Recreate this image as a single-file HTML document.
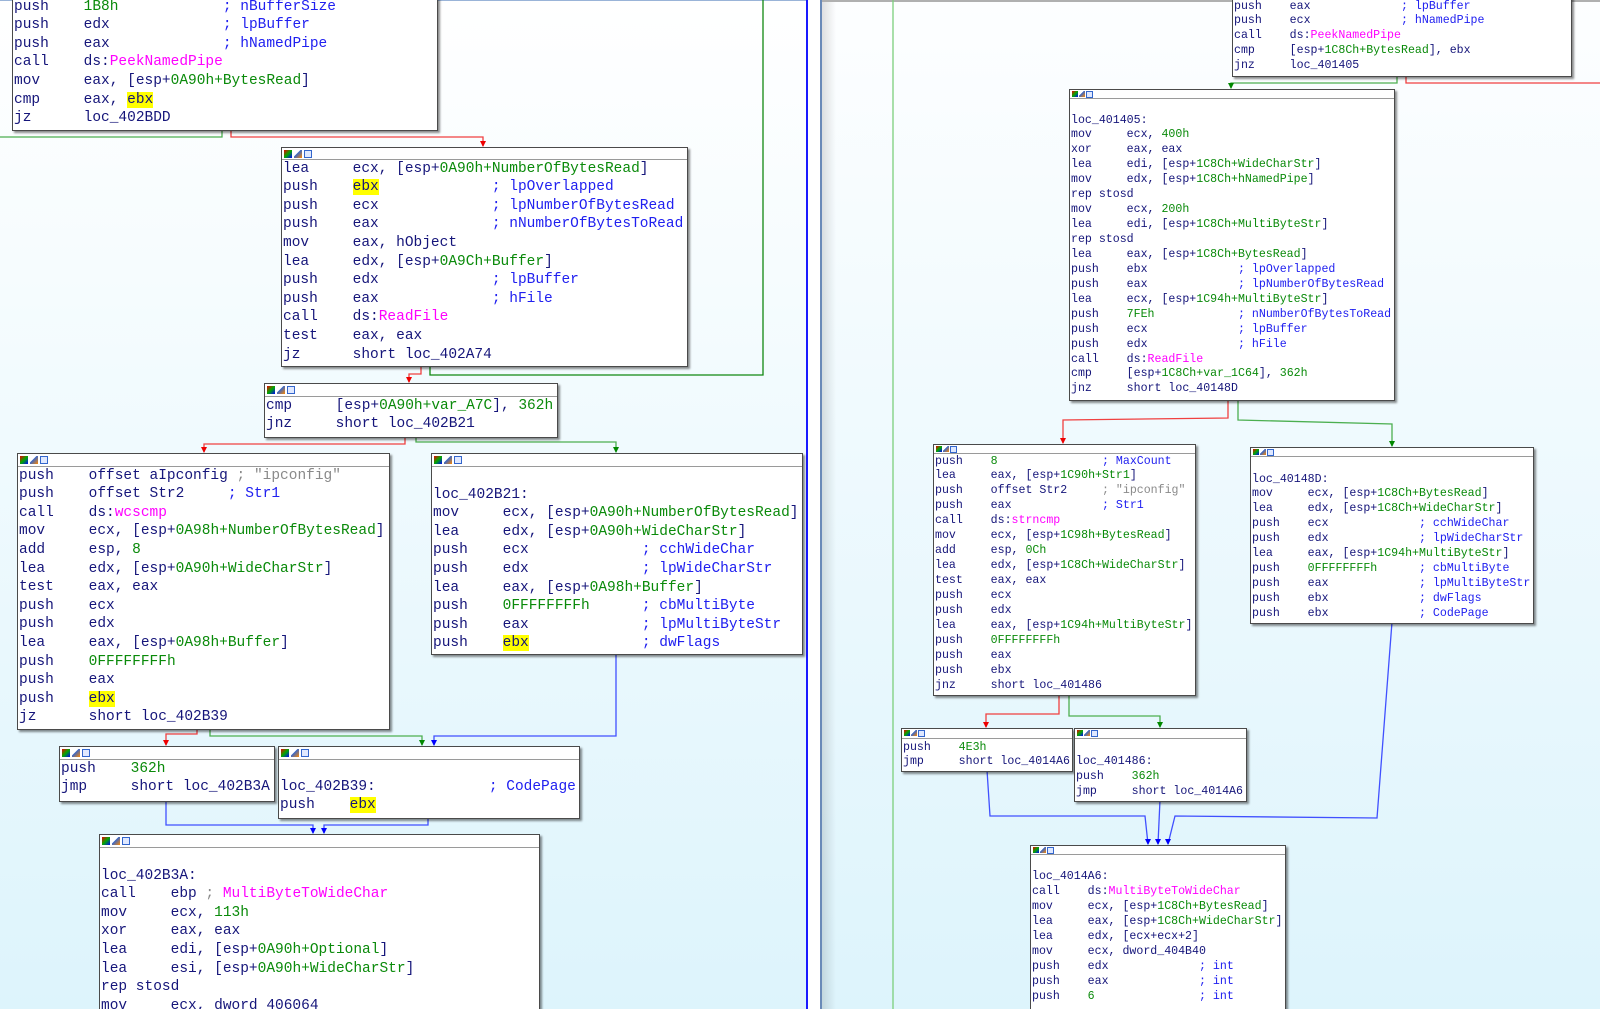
<!DOCTYPE html>
<html><head><meta charset="utf-8">
<style>
html,body{margin:0;padding:0;width:1600px;height:1009px;overflow:hidden}
body{position:relative;background:#fff;font-family:"Liberation Mono",monospace}
.pl{position:absolute;left:0;top:0;width:807px;height:1009px;background:linear-gradient(#ffffff,#ddf4fc)}
.pr{position:absolute;left:822px;top:0;width:778px;height:1009px;background:linear-gradient(#fdfeff,#ddf4fc)}
.box{position:absolute;background:#fff;border:1px solid #4a4a4a;box-shadow:2px 2px 2px rgba(0,0,0,.45);overflow:hidden}
.hd{position:absolute;left:0;top:0;right:0;border-bottom:1px solid #9a9a9a;background:#fff}
.hd i{position:absolute;top:2px;width:8px;height:8px;display:block}
.hd i.a{left:2px;background:linear-gradient(135deg,#e00,#0a0,#00f)}
.hd i.b{left:12px;background:linear-gradient(135deg,#fff 40%,#36c 41%,#f80)}
.hd i.c{left:22px;border:1px solid #36c;width:6px;height:6px;background:#dfe8ff}
pre{position:absolute;left:1px;margin:0;white-space:pre;color:#15157a}
.L pre{font-size:14.5px;line-height:18.6px}
.R pre{font-size:11.6px;line-height:14.93px}
.R .hd i{top:1px;width:6px;height:6px}
.R .hd i.b{left:9px}.R .hd i.c{left:16px;width:5px;height:5px}
.g{color:#0a8a0a}.b{color:#2020f0}.m{color:#f0f}.s{color:#8a8a8a}.y{background:#ff0}
</style></head><body>
<div class="pl"></div>
<div class="pr"></div>
<div style="position:absolute;left:806px;top:0;width:2px;height:1009px;background:#1a1aff"></div>
<div style="position:absolute;left:820px;top:0;width:2px;height:1009px;background:#6a8ab8"></div>
<div style="position:absolute;left:822px;top:0;width:14px;height:1009px;background:linear-gradient(90deg,rgba(0,0,0,.12),rgba(0,0,0,0))"></div>
<div style="position:absolute;left:822px;top:0;width:778px;height:2px;background:#b0b0b0"></div>
<div style="position:absolute;left:0;top:0;width:806px;height:1px;background:#9ab4d8"></div>

<svg width="1600" height="1009" style="position:absolute;left:0;top:0" xmlns="http://www.w3.org/2000/svg">
<defs>
<marker id="ar" markerWidth="6" markerHeight="6" refX="3" refY="5" markerUnits="userSpaceOnUse"><path d="M0,0 L6,0 L3,6 z" fill="#e00"/></marker>
<marker id="ag" markerWidth="6" markerHeight="6" refX="3" refY="5" markerUnits="userSpaceOnUse"><path d="M0,0 L6,0 L3,6 z" fill="#080"/></marker>
<marker id="ab" markerWidth="6" markerHeight="6" refX="3" refY="5" markerUnits="userSpaceOnUse"><path d="M0,0 L6,0 L3,6 z" fill="#00f"/></marker>
</defs>
<g fill="none" stroke-width="1.3">
<polyline points="222,129 222,137 0,137" stroke="#4caf50"/>
<polyline points="231,129 231,137 483,137 483,146" stroke="#f04040" marker-end="url(#ar)"/>
<polyline points="430,365 430,375 763,375 763,0" stroke="#118811"/>
<polyline points="421,365 421,374 409,374 409,382" stroke="#f04040" marker-end="url(#ar)"/>
<polyline points="405,436 405,444 204,444 204,452" stroke="#f04040" marker-end="url(#ar)"/>
<polyline points="416,436 416,442 616,442 616,452" stroke="#4caf50" marker-end="url(#ag)"/>
<polyline points="197,728 197,734 166,734 166,745" stroke="#f04040" marker-end="url(#ar)"/>
<polyline points="210,728 210,736 422,736 422,745" stroke="#4caf50" marker-end="url(#ag)"/>
<polyline points="616,653 616,736 434,736 434,745" stroke="#4050ff" marker-end="url(#ab)"/>
<polyline points="166,800 166,825 313,825 313,833" stroke="#4050ff" marker-end="url(#ab)"/>
<polyline points="428,817 428,825 324,825 324,833" stroke="#4050ff" marker-end="url(#ab)"/>
<line x1="893" y1="0" x2="893" y2="1009" stroke="#7ccf7c"/>
<polyline points="1397,75 1397,83 1231,83 1231,88" stroke="#4caf50" marker-end="url(#ag)"/>
<polyline points="1406,75 1406,83 1600,83" stroke="#f04040"/>
<polyline points="1228,399 1228,418 1063,420 1063,443" stroke="#f04040" marker-end="url(#ar)"/>
<polyline points="1238,399 1238,420 1392,424 1392,446" stroke="#4caf50" marker-end="url(#ag)"/>
<polyline points="1059,694 1059,714 986,714 986,727" stroke="#f04040" marker-end="url(#ar)"/>
<polyline points="1069,694 1069,716 1160,716 1160,727" stroke="#4caf50" marker-end="url(#ag)"/>
<polyline points="987,770 990,816 1145,816 1148,844" stroke="#4050ff" marker-end="url(#ab)"/>
<polyline points="1160,800 1158,844" stroke="#4050ff" marker-end="url(#ab)"/>
<polyline points="1392,622 1377,818 1175,816 1168,844" stroke="#4050ff" marker-end="url(#ab)"/>
</g>
</svg>

<div class="L">
<div class="box" style="left:12px;top:-16px;width:424px;height:145px"><div class="hd" style="height:12px"></div><pre style="top:12.7px">push    <span class="g">1B8h</span>            <span class="b">; nBufferSize</span>
push    edx             <span class="b">; lpBuffer</span>
push    eax             <span class="b">; hNamedPipe</span>
call    ds:<span class="m">PeekNamedPipe</span>
mov     eax, [esp+<span class="g">0A90h+BytesRead</span>]
cmp     eax, <span class="y">ebx</span>
jz      loc_402BDD</pre></div>

<div class="box" style="left:281px;top:147px;width:405px;height:218px"><div class="hd" style="height:11px"><i class="a"></i><i class="b"></i><i class="c"></i></div><pre style="top:11.7px">lea     ecx, [esp+<span class="g">0A90h+NumberOfBytesRead</span>]
push    <span class="y">ebx</span>             <span class="b">; lpOverlapped</span>
push    ecx             <span class="b">; lpNumberOfBytesRead</span>
push    eax             <span class="b">; nNumberOfBytesToRead</span>
mov     eax, hObject
lea     edx, [esp+<span class="g">0A9Ch+Buffer</span>]
push    edx             <span class="b">; lpBuffer</span>
push    eax             <span class="b">; hFile</span>
call    ds:<span class="m">ReadFile</span>
test    eax, eax
jz      short loc_402A74</pre></div>

<div class="box" style="left:264px;top:383px;width:292px;height:53px"><div class="hd" style="height:12px"><i class="a"></i><i class="b"></i><i class="c"></i></div><pre style="top:12.7px">cmp     [esp+<span class="g">0A90h+var_A7C</span>], <span class="g">362h</span>
jnz     short loc_402B21</pre></div>

<div class="box" style="left:17px;top:453px;width:371px;height:275px"><div class="hd" style="height:12px"><i class="a"></i><i class="b"></i><i class="c"></i></div><pre style="top:12.7px">push    offset aIpconfig <span class="s">; "ipconfig"</span>
push    offset Str2     <span class="b">; Str1</span>
call    ds:<span class="m">wcscmp</span>
mov     ecx, [esp+<span class="g">0A98h+NumberOfBytesRead</span>]
add     esp, <span class="g">8</span>
lea     edx, [esp+<span class="g">0A90h+WideCharStr</span>]
test    eax, eax
push    ecx
push    edx
lea     eax, [esp+<span class="g">0A98h+Buffer</span>]
push    <span class="g">0FFFFFFFFh</span>
push    eax
push    <span class="y">ebx</span>
jz      short loc_402B39</pre></div>

<div class="box" style="left:431px;top:453px;width:370px;height:200px"><div class="hd" style="height:12px"><i class="a"></i><i class="b"></i><i class="c"></i></div><pre style="top:13.1px"> 
loc_402B21:
mov     ecx, [esp+<span class="g">0A90h+NumberOfBytesRead</span>]
lea     edx, [esp+<span class="g">0A90h+WideCharStr</span>]
push    ecx             <span class="b">; cchWideChar</span>
push    edx             <span class="b">; lpWideCharStr</span>
lea     eax, [esp+<span class="g">0A98h+Buffer</span>]
push    <span class="g">0FFFFFFFFh</span>      <span class="b">; cbMultiByte</span>
push    eax             <span class="b">; lpMultiByteStr</span>
push    <span class="y">ebx</span>             <span class="b">; dwFlags</span></pre></div>

<div class="box" style="left:59px;top:746px;width:214px;height:54px"><div class="hd" style="height:12px"><i class="a"></i><i class="b"></i><i class="c"></i></div><pre style="top:12.7px">push    <span class="g">362h</span>
jmp     short loc_402B3A</pre></div>

<div class="box" style="left:278px;top:746px;width:300px;height:71px"><div class="hd" style="height:12px"><i class="a"></i><i class="b"></i><i class="c"></i></div><pre style="top:12.1px"> 
loc_402B39:             <span class="b">; CodePage</span>
push    <span class="y">ebx</span></pre></div>

<div class="box" style="left:99px;top:834px;width:439px;height:185px"><div class="hd" style="height:12px"><i class="a"></i><i class="b"></i><i class="c"></i></div><pre style="top:13.1px"> 
loc_402B3A:
call    ebp <span class="s">;</span> <span class="m">MultiByteToWideChar</span>
mov     ecx, <span class="g">113h</span>
xor     eax, eax
lea     edi, [esp+<span class="g">0A90h+Optional</span>]
lea     esi, [esp+<span class="g">0A90h+WideCharStr</span>]
rep stosd
mov     ecx, dword_406064</pre></div>
</div>

<div class="R">
<div class="box" style="left:1232px;top:-12px;width:338px;height:87px"><div class="hd" style="height:9px"></div><pre style="top:10.5px">push    eax             <span class="b">; lpBuffer</span>
push    ecx             <span class="b">; hNamedPipe</span>
call    ds:<span class="m">PeekNamedPipe</span>
cmp     [esp+<span class="g">1C8Ch+BytesRead</span>], ebx
jnz     loc_401405</pre></div>

<div class="box" style="left:1069px;top:89px;width:324px;height:310px"><div class="hd" style="height:8px"><i class="a"></i><i class="b"></i><i class="c"></i></div><pre style="top:8.6px"> 
loc_401405:
mov     ecx, <span class="g">400h</span>
xor     eax, eax
lea     edi, [esp+<span class="g">1C8Ch+WideCharStr</span>]
mov     edx, [esp+<span class="g">1C8Ch+hNamedPipe</span>]
rep stosd
mov     ecx, <span class="g">200h</span>
lea     edi, [esp+<span class="g">1C8Ch+MultiByteStr</span>]
rep stosd
lea     eax, [esp+<span class="g">1C8Ch+BytesRead</span>]
push    ebx             <span class="b">; lpOverlapped</span>
push    eax             <span class="b">; lpNumberOfBytesRead</span>
lea     ecx, [esp+<span class="g">1C94h+MultiByteStr</span>]
push    <span class="g">7FEh</span>            <span class="b">; nNumberOfBytesToRead</span>
push    ecx             <span class="b">; lpBuffer</span>
push    edx             <span class="b">; hFile</span>
call    ds:<span class="m">ReadFile</span>
cmp     [esp+<span class="g">1C8Ch+var_1C64</span>], <span class="g">362h</span>
jnz     short loc_40148D</pre></div>

<div class="box" style="left:933px;top:444px;width:261px;height:250px"><div class="hd" style="height:8px"><i class="a"></i><i class="b"></i><i class="c"></i></div><pre style="top:9.5px">push    <span class="g">8</span>               <span class="b">; MaxCount</span>
lea     eax, [esp+<span class="g">1C90h+Str1</span>]
push    offset Str2     <span class="s">; "ipconfig"</span>
push    eax             <span class="b">; Str1</span>
call    ds:<span class="m">strncmp</span>
mov     ecx, [esp+<span class="g">1C98h+BytesRead</span>]
add     esp, <span class="g">0Ch</span>
lea     edx, [esp+<span class="g">1C8Ch+WideCharStr</span>]
test    eax, eax
push    ecx
push    edx
lea     eax, [esp+<span class="g">1C94h+MultiByteStr</span>]
push    <span class="g">0FFFFFFFFh</span>
push    eax
push    ebx
jnz     short loc_401486</pre></div>

<div class="box" style="left:1250px;top:447px;width:282px;height:175px"><div class="hd" style="height:8px"><i class="a"></i><i class="b"></i><i class="c"></i></div><pre style="top:9.6px"> 
loc_40148D:
mov     ecx, [esp+<span class="g">1C8Ch+BytesRead</span>]
lea     edx, [esp+<span class="g">1C8Ch+WideCharStr</span>]
push    ecx             <span class="b">; cchWideChar</span>
push    edx             <span class="b">; lpWideCharStr</span>
lea     eax, [esp+<span class="g">1C94h+MultiByteStr</span>]
push    <span class="g">0FFFFFFFFh</span>      <span class="b">; cbMultiByte</span>
push    eax             <span class="b">; lpMultiByteStr</span>
push    ebx             <span class="b">; dwFlags</span>
push    ebx             <span class="b">; CodePage</span></pre></div>

<div class="box" style="left:901px;top:728px;width:170px;height:42px"><div class="hd" style="height:9px"><i class="a"></i><i class="b"></i><i class="c"></i></div><pre style="top:11.5px">push    <span class="g">4E3h</span>
jmp     short loc_4014A6</pre></div>

<div class="box" style="left:1074px;top:728px;width:171px;height:72px"><div class="hd" style="height:9px"><i class="a"></i><i class="b"></i><i class="c"></i></div><pre style="top:11.5px"> 
loc_401486:
push    <span class="g">362h</span>
jmp     short loc_4014A6</pre></div>

<div class="box" style="left:1030px;top:845px;width:254px;height:170px"><div class="hd" style="height:8px"><i class="a"></i><i class="b"></i><i class="c"></i></div><pre style="top:9.5px"> 
loc_4014A6:
call    ds:<span class="m">MultiByteToWideChar</span>
mov     ecx, [esp+<span class="g">1C8Ch+BytesRead</span>]
lea     eax, [esp+<span class="g">1C8Ch+WideCharStr</span>]
lea     edx, [ecx+ecx+2]
mov     ecx, dword_404B40
push    edx             <span class="b">; int</span>
push    eax             <span class="b">; int</span>
push    <span class="g">6</span>               <span class="b">; int</span></pre></div>
</div>
</body></html>
